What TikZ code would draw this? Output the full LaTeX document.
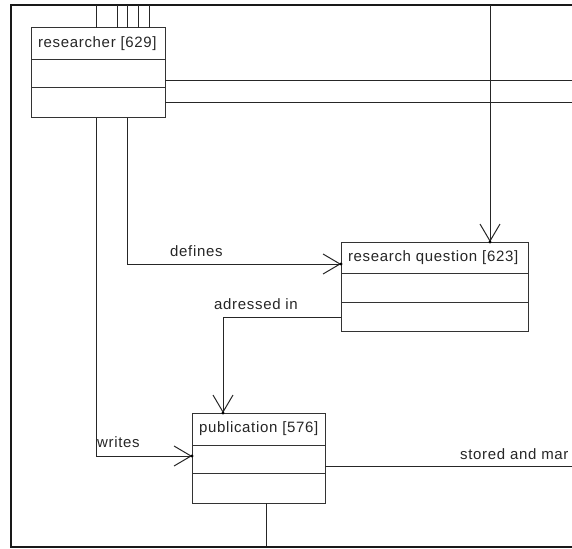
\documentclass[tikz,border=0pt]{standalone}
\usepackage{fontspec}
\setmainfont{Liberation Sans}[LetterSpace=4.5]
\usetikzlibrary{arrows.meta}
% left-aligned class title that may run past its box width without wrapping
\newcommand\clstitle[2]{\makebox[#1][l]{#2}}
\begin{document}
\begin{tikzpicture}[x=1pt,y=-1pt,
  every node/.style={font=\fontsize{15}{18}\selectfont, text=black!85},
  part/.style={draw=black!80, line width=1pt, fill=white, anchor=north west,
    inner sep=0pt, outer sep=0pt},
  title/.style={part, inner xsep=7pt},
  conn/.style={draw=black!85, line width=1pt},
  assoc/.style={conn, -{Straight Barb[length=17pt,width=20pt]}},
  tipdot/.style={fill=black},
  lbl/.style={anchor=base west, inner sep=0pt}]
\useasboundingbox (0,0) rectangle (572,548);

% outer frame
\draw[line width=2pt, black!90] (572,5) -- (10.5,5) -- (10.5,546.5) -- (572,546.5);

% researcher
\node[title, minimum width=134pt, minimum height=32pt] (r) at (31,28) {\clstitle{120pt}{researcher [629]}};
\node[part, minimum width=134pt, minimum height=28pt] (r2) at (r.south west) {};
\node[part, minimum width=134pt, minimum height=30pt] (r3) at (r2.south west) {};

% research question
\node[title, minimum width=187pt, minimum height=31pt] (rq) at (341,242) {\clstitle{173pt}{research question [623]}};
\node[part, minimum width=187pt, minimum height=29pt] (rq2) at (rq.south west) {};
\node[part, minimum width=187pt, minimum height=29pt] (rq3) at (rq2.south west) {};

% publication
\node[title, minimum width=133pt, minimum height=32pt] (p) at (192,413) {\clstitle{119pt}{publication [576]}};
\node[part, minimum width=133pt, minimum height=28pt] (p2) at (p.south west) {};
\node[part, minimum width=133pt, minimum height=30pt] (p3) at (p2.south west) {};

% free ends of connectors leaving the frame
\coordinate (t1) at (96,5);
\coordinate (t2) at (117,5);
\coordinate (t3) at (127,5);
\coordinate (t4) at (138,5);
\coordinate (t5) at (149,5);
\coordinate (e1) at (572,81);
\coordinate (e2) at (572,103);
\coordinate (q) at (490,5);
\coordinate (e3) at (572,466);
\coordinate (b1) at (266,546);
% bend points
\coordinate (dk) at (127,264);
\coordinate (wk) at (96,456);
\coordinate (ak) at (223,317);

% connectors at the top of researcher
\foreach \t in {t1,t2,t3,t4,t5}
  \draw[conn] (r.north -| \t) -- (\t);
% connectors to the right of researcher
\draw[conn] (r2.east |- e1) -- (e1);
\draw[conn] (r3.east |- e2) -- (e2);

% incoming association of research question
\draw[assoc] (q) -- (rq.north -| q);
\fill[tipdot] (rq.north -| q) circle (1.6pt);

% defines
\draw[assoc] (r3.south -| dk) |- (rq.west |- dk);
\fill[tipdot] (rq.west |- dk) circle (1.6pt);
\node[lbl] (ldef) at (170,256) {defines};

% adressed in
\draw[assoc] (rq3.west |- ak) -| (p.north -| ak);
\fill[tipdot] (p.north -| ak) circle (1.6pt);
\node[lbl] (ladr) at (214,309) {adressed in};

% writes
\draw[assoc] (r3.south -| wk) |- (p2.west |- wk);
\fill[tipdot] (p2.west |- wk) circle (1.6pt);
\node[lbl] (lwr) at (97,447) {writes};

% stored and managed
\draw[conn] (p2.east |- e3) -- (e3);
\node[lbl] (lsto) at (460,459) {stored and mar};

% connector below publication
\draw[conn] (p3.south -| b1) -- (b1);
\end{tikzpicture}
\end{document}
